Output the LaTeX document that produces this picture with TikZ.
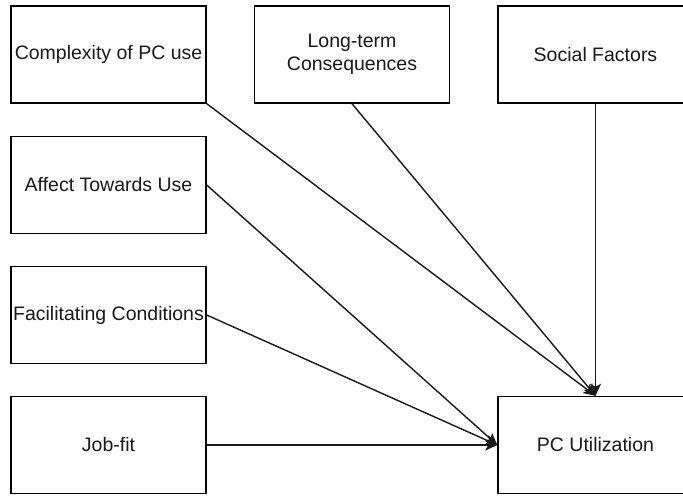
\documentclass[tikz,border=0pt]{standalone}
\usepackage{fontspec}
\setmainfont{Liberation Sans}
\usetikzlibrary{arrows.meta}

\tikzset{
  factor/.style={draw=black, line width=1.4pt, fill=white, rectangle,
    minimum width=195pt, minimum height=97pt, inner sep=0pt,
    align=center, font=\fontsize{19.5}{23}\selectfont, text=black!90},
  link/.style={draw=black!90, line width=1.4pt,
    -{Stealth[length=12pt, width=11pt, inset=3pt]}}
}

\begin{document}
\begin{tikzpicture}[x=1pt, y=-1pt]
  % page frame: the right-hand column runs past the edge and is cut off
  \clip (0,0) rectangle (683,497);
  \fill[white] (0,0) rectangle (683,497);

  % influencing factors
  \node[factor] (cplx)   at (108.5,54.5) {Complexity of PC use};
  \node[factor] (long)   at (352,54.5)   {Long-term\\Consequences};
  \node[factor] (social) at (595.5,54.5) {Social Factors};
  \node[factor] (affect) at (108.5,185)  {Affect Towards Use};
  \node[factor] (facil)  at (108.5,315)  {Facilitating Conditions};
  \node[factor] (jobfit) at (108.5,445)  {Job-fit};

  % outcome
  \node[factor] (util)   at (595.5,445)  {PC Utilization};

  % influences
  \draw[link] (cplx.south east) -- (util.north);
  \draw[link] (long.south)      -- (util.north);
  \draw[link] (social.south)    -- (util.north);
  \draw[link] (affect.east)     -- (util.west);
  \draw[link] (facil.east)      -- (util.west);
  \draw[link] (jobfit.east)     -- (util.west);
\end{tikzpicture}
\end{document}
